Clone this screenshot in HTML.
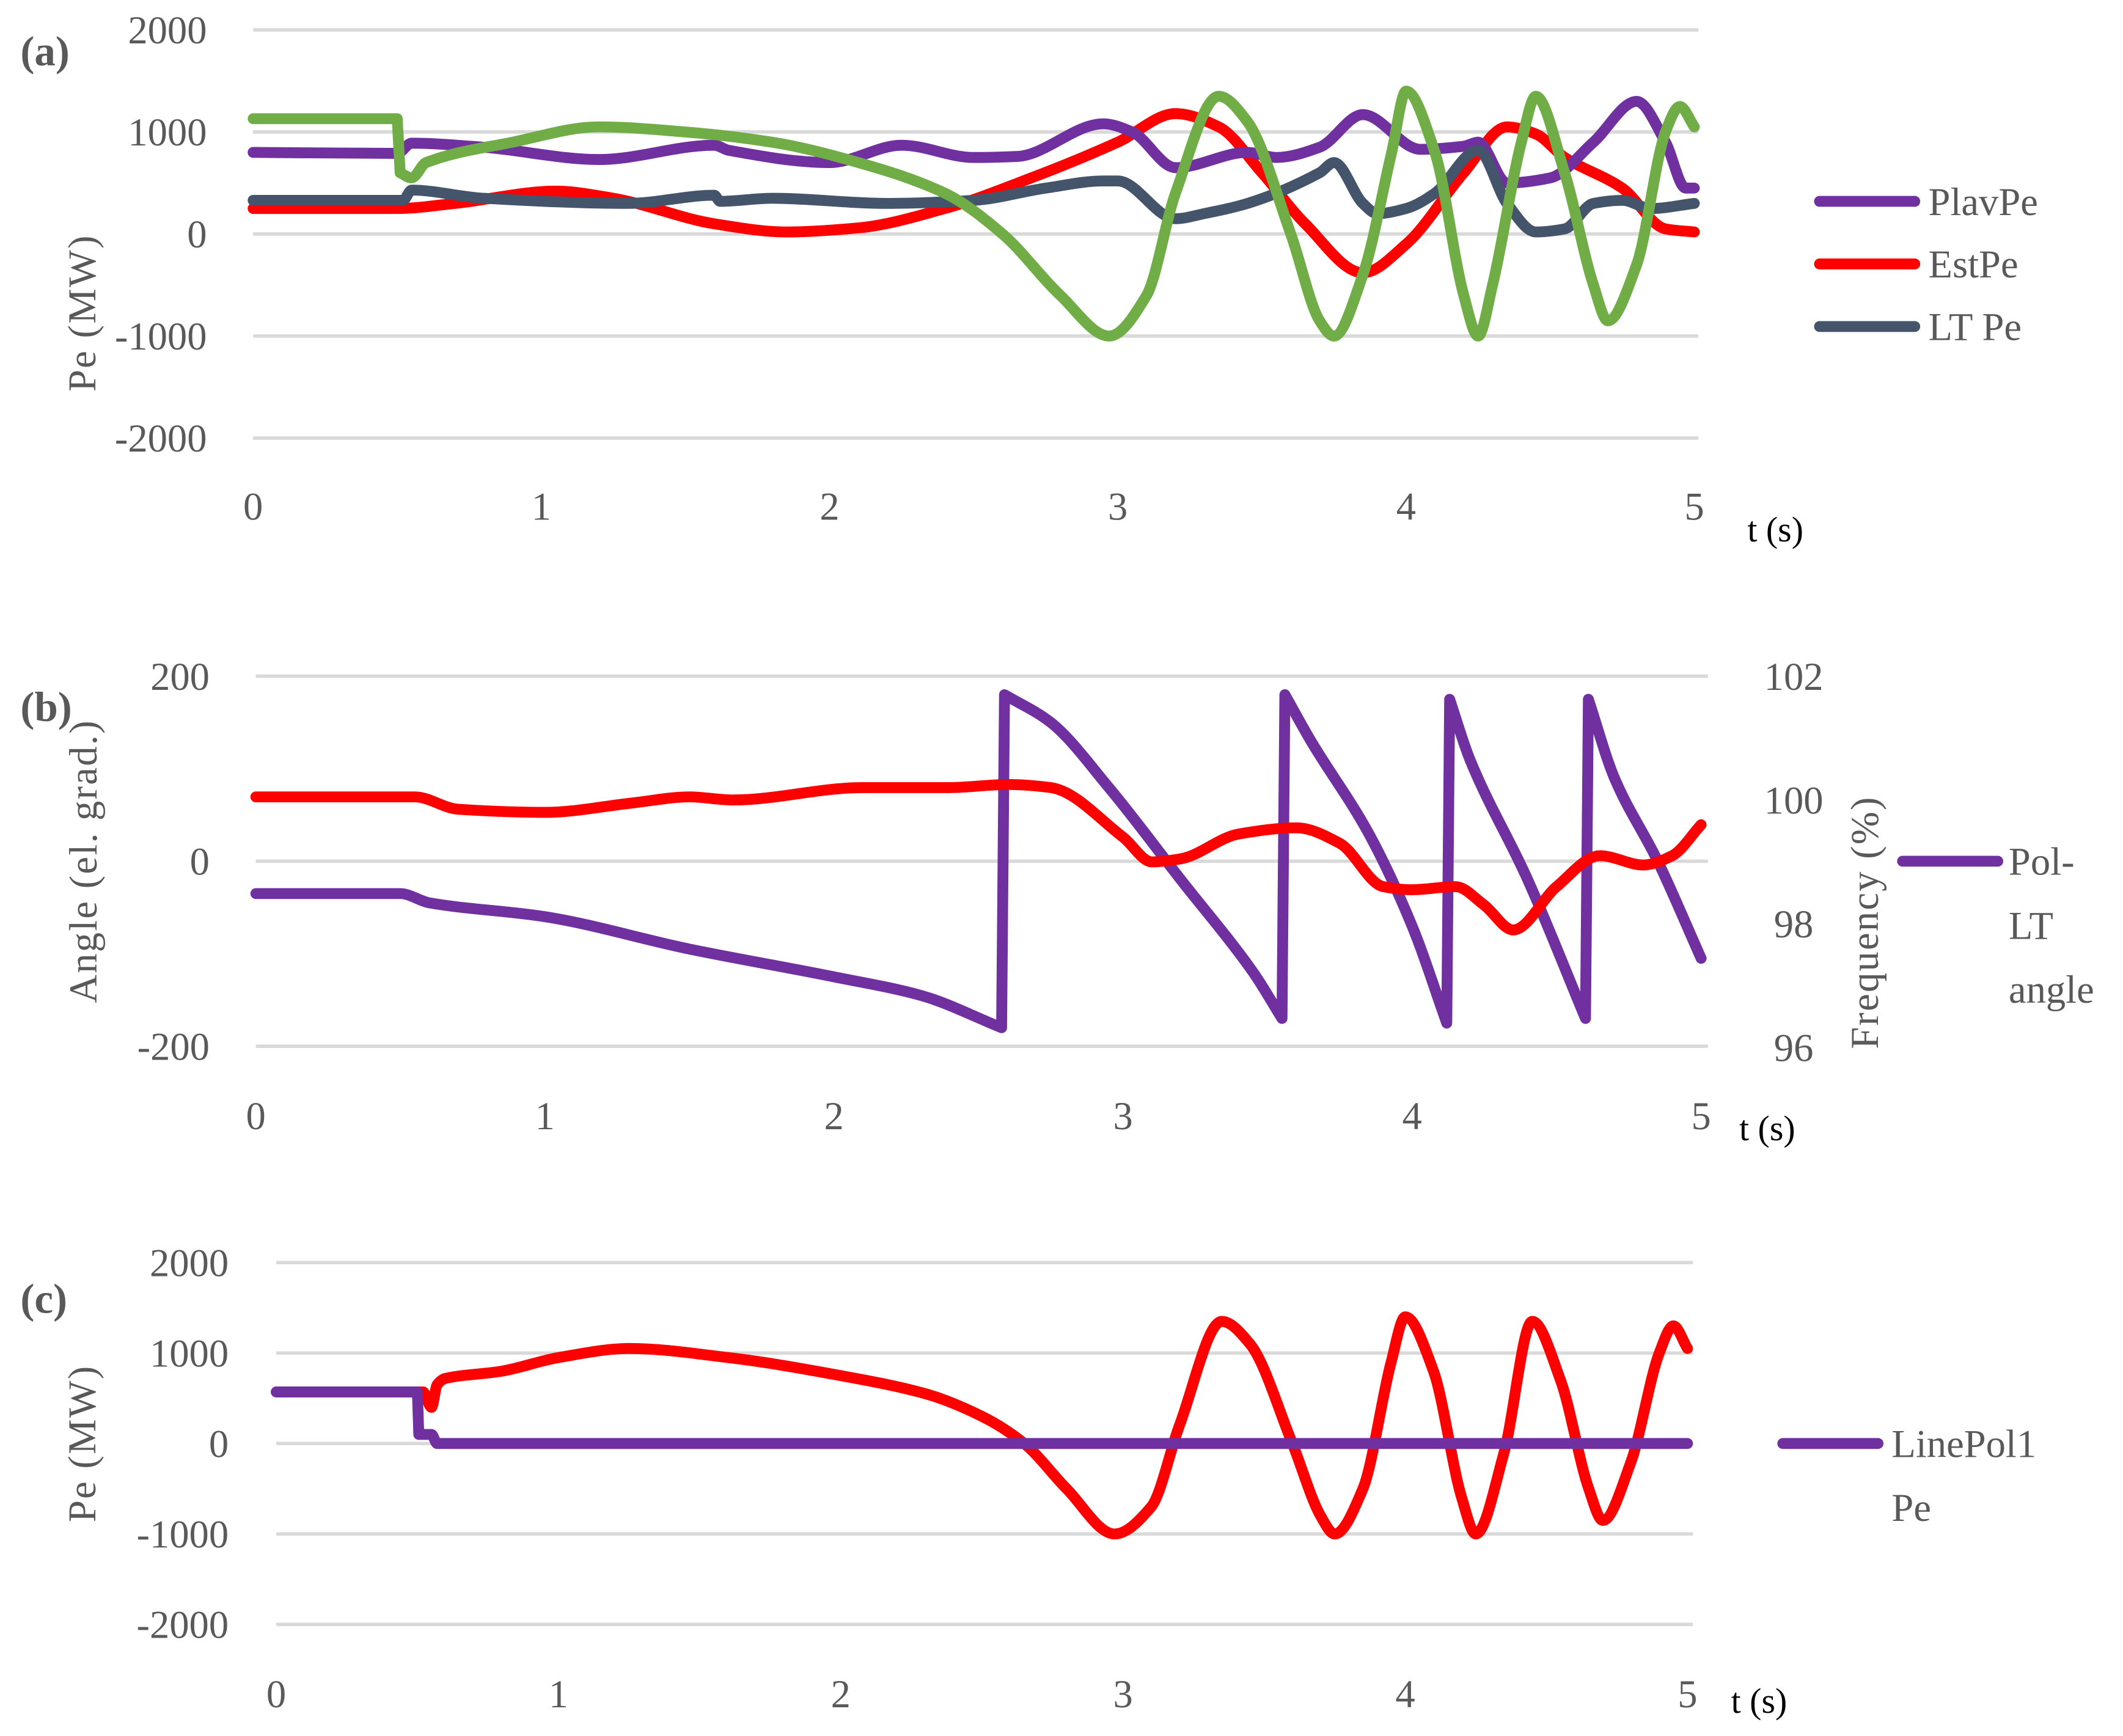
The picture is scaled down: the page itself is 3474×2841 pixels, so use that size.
<!DOCTYPE html>
<html><head><meta charset="utf-8"><style>
html,body{margin:0;padding:0;background:#fff}
svg{display:block}
text{font-family:"Liberation Serif",serif;fill:#595959}
</style></head><body>
<svg id="c" width="3474" height="2841" viewBox="0 0 1560 1276" preserveAspectRatio="none">
<g id="root"></g>
</svg>
<script>
// Panel (a)
const aTime=[0,0.5,0.55,0.8,1.2,1.6,1.65,2.0,2.25,2.5,2.65,2.95,3.05,3.2,3.45,3.55,3.7,3.85,4.05,4.2,4.25,4.35,4.5,4.65,4.8,4.9,4.97,5];
const plavPe=[800,790,890,850,730,870,820,700,870,750,760,1080,1000,650,800,750,850,1170,830,860,900,500,550,900,1300,900,450,450];
const estTime=[0,0.5,0.7,1.05,1.25,1.6,1.85,2.1,2.4,2.7,3.0,3.2,3.35,3.5,3.65,3.85,4.0,4.2,4.35,4.45,4.55,4.75,4.9,5];
const estPe=[250,250,300,420,350,100,20,60,250,550,900,1180,1050,600,100,-380,-100,600,1050,980,750,450,50,20];
const ltTime=[0,0.52,0.55,0.8,1.3,1.6,1.62,1.8,2.2,2.5,2.75,2.95,3.0,3.2,3.3,3.45,3.7,3.75,3.85,3.9,4.0,4.1,4.25,4.35,4.45,4.55,4.65,4.75,4.85,5];
const ltPe=[330,330,430,350,300,380,320,350,300,330,450,520,520,150,200,300,600,700,300,200,250,400,820,300,20,50,300,330,250,300];
const greenTime=[0,0.5,0.51,0.55,0.6,0.9,1.2,1.5,1.8,2.1,2.4,2.6,2.8,2.97,3.1,3.2,3.35,3.45,3.6,3.7,3.75,3.85,3.95,4.0,4.1,4.2,4.25,4.3,4.4,4.45,4.55,4.65,4.7,4.8,4.9,4.95,5];
const greenPe=[1130,1130,600,550,700,900,1050,1000,900,700,400,0,-600,-1000,-600,400,1350,1100,0,-850,-1000,-400,800,1400,800,-600,-1000,-500,900,1350,600,-500,-850,-300,1000,1250,1050];
const aTicks=[2000,1000,0,-1000,-2000];
const xTicks=[0,1,2,3,4,5];
// Panel (b)
const angTime=[0,0.5,0.6,1.0,1.5,2.0,2.3,2.58,2.59,2.75,2.95,3.2,3.45,3.55,3.56,3.65,3.85,4.0,4.12,4.13,4.2,4.4,4.6,4.61,4.7,4.85,5];
const angle=[-35,-35,-45,-60,-95,-125,-145,-180,180,150,80,-20,-120,-170,180,130,30,-70,-175,175,110,-20,-170,175,90,0,-105];
const freqTime=[0,0.55,0.7,1.0,1.3,1.5,1.65,2.1,2.4,2.6,2.75,3.0,3.1,3.2,3.4,3.6,3.75,3.9,4.0,4.15,4.25,4.35,4.5,4.65,4.8,4.9,5];
const freq=[100.05,100.05,99.85,99.8,99.95,100.05,100.0,100.2,100.2,100.25,100.2,99.4,99.0,99.05,99.45,99.55,99.3,98.6,98.55,98.6,98.3,97.9,98.6,99.1,98.95,99.1,99.6];
const bTicks=[200,0,-200];
const fTicks=[102,100,98,96];
// Panel (c)
const lpTime=[0,0.5,0.505,0.55,0.57,5];
const linePol=[570,570,100,100,0,0];
const cRedTime=[0,0.52,0.55,0.57,0.6,0.8,1.0,1.25,1.6,2.0,2.3,2.5,2.65,2.8,2.97,3.1,3.2,3.35,3.45,3.6,3.7,3.75,3.85,3.95,4.0,4.1,4.2,4.25,4.35,4.45,4.55,4.65,4.7,4.8,4.9,4.95,5];
const cRed=[570,570,400,650,720,800,950,1050,950,750,550,300,0,-500,-1000,-700,200,1350,1100,0,-800,-1000,-500,900,1400,800,-600,-1000,-100,1350,700,-500,-850,-200,1000,1300,1050];
const cTicks=[2000,1000,0,-1000,-2000];

const NS="http://www.w3.org/2000/svg";
const root=document.getElementById('root');
function mk(tag,attrs,parent){const e=document.createElementNS(NS,tag);for(const k in attrs)e.setAttribute(k,attrs[k]);(parent||root).appendChild(e);return e;}
function txt(s,attrs,parent){const e=mk('text',attrs,parent);e.textContent=s;return e;}
function lin(d0,d1,r0,r1){return v=>r0+(v-d0)/(d1-d0)*(r1-r0);}
function line(xs,ys,X,Y,color,name,w){
  const P=xs.map((x,i)=>[X(x),Y(ys[i])]);
  const n=P.length,JUMP=3;
  const sec=[],jump=[];
  for(let i=0;i<n-1;i++){const dx=P[i+1][0]-P[i][0];jump[i]=dx<JUMP;sec[i]=jump[i]?0:(P[i+1][1]-P[i][1])/dx;}
  const m=[];
  for(let i=0;i<n;i++){
    const L=i>0&&!jump[i-1]?sec[i-1]:null,R=i<n-1&&!jump[i]?sec[i]:null;
    if(L===null&&R===null)m[i]=0;
    else if(L===null)m[i]=R;
    else if(R===null)m[i]=L;
    else if(L*R<=0)m[i]=0;
    else m[i]=2/(1/L+1/R);
  }
  let d='M'+P[0][0].toFixed(2)+' '+P[0][1].toFixed(2);
  for(let i=0;i<n-1;i++){
    const p1=P[i],p2=P[i+1];
    if(jump[i]){d+='L'+p2[0].toFixed(2)+' '+p2[1].toFixed(2);continue;}
    const h=(p2[0]-p1[0])/3;
    d+='C'+(p1[0]+h).toFixed(2)+' '+(p1[1]+m[i]*h).toFixed(2)+' '+(p2[0]-h).toFixed(2)+' '+(p2[1]-m[i+1]*h).toFixed(2)+' '+p2[0].toFixed(2)+' '+p2[1].toFixed(2);
  }
  const p=mk('path',{d:d,fill:'none',stroke:color,'stroke-width':w||8,'stroke-linejoin':'round','stroke-linecap':'round'});
  
  
}
function grid(ticks,Y,x0,x1,lx,name){
  ticks.forEach(t=>{
    const g=mk('line',{x1:x0,x2:x1,y1:Y(t),y2:Y(t),stroke:'#d9d9d9','stroke-width':2.5});
    
    
    const l=txt(String(t),{x:lx,y:Y(t)+10,'font-size':29,'text-anchor':'end'});
    
    
  });
}
function xaxis(X,y,name){
  xTicks.forEach(t=>{const l=txt(String(t),{x:X(t),y:y,'font-size':29,'text-anchor':'middle'});
    
    });
}
function rotText(s,x,y,name,size){
  const e=txt(s,{x:x,y:y,'font-size':size||29,'text-anchor':'middle',transform:'rotate(-90 '+x+' '+y+')','letter-spacing':1});
  
  
}
function legend(x,y,color,lines,name,tx){
  const l=mk('line',{x1:x,x2:x+70,y1:y,y2:y,stroke:color,'stroke-width':8,'stroke-linecap':'round'});
  
  
  lines.forEach((s,i)=>{const t=txt(s,{x:tx,y:y+10+i*47,'font-size':29});
    
    });
}
function label(s,x,y,name,sans){
  const t=txt(s,{x:x,y:y,'font-size':sans?26:31,'font-weight':sans?'normal':'bold',fill:sans?'#000':'#595959','font-family':sans?'Liberation Sans, sans-serif':'Liberation Serif, serif'});
  
  
  if(sans)t.style.fill='#000';
}
const PURPLE='#7030a0',RED='#ff0000',DARK='#44546a',GREEN='#70ad47';
// (a)
{const X=lin(0,5,186,1245),Y=lin(0,1000,172,97);
grid(aTicks,Y,186,1248,152,'panel-a-y');xaxis(X,382,'panel-a');
line(estTime,estPe,X,Y,RED,'estpe-line');
line(aTime,plavPe,X,Y,PURPLE,'plavpe-line');
line(ltTime,ltPe,X,Y,DARK,'ltpe-line');
line(greenTime,greenPe,X,Y,GREEN,'green-series-line');
rotText('Pe (MW)',70,230,'panel-a-y-axis-title');
legend(1337,148,PURPLE,['PlavPe'],'legend-plavpe',1417);
legend(1337,194,RED,['EstPe'],'legend-estpe',1417);
legend(1337,240,DARK,['LT Pe'],'legend-ltpe',1417);
label('(a)',15,48,'panel-a-label');label('t (s)',1284,398,'panel-a-x-axis-title',true);}
// (b)
{const X=lin(0,5,188,1250),Y=lin(0,200,633,497),YF=lin(96,102,770,497);
grid(bTicks,Y,188,1255,154,'panel-b-y');xaxis(X,830,'panel-b');
fTicks.forEach(t=>{const l=txt(String(t),{x:1318,y:YF(t)+10,'font-size':29,'text-anchor':'middle'});
  
  });
line(angTime,angle,X,Y,PURPLE,'pol-lt-angle-line');
line(freqTime,freq,X,YF,RED,'frequency-line');
rotText('Angle (el. grad.)',71,633,'panel-b-y-axis-title');
rotText('Frequency (%)',1380,678,'panel-b-right-axis-title');
legend(1398,633,PURPLE,['Pol-','LT','angle'],'legend-pol-lt-angle',1476);
label('(b)',15,530,'panel-b-label');label('t (s)',1278,838,'panel-b-x-axis-title',true);}
// (c)
{const X=lin(0,5,203,1240),Y=lin(0,1000,1061,994.5);
grid(cTicks,Y,203,1244,168,'panel-c-y');xaxis(X,1255,'panel-c');
line(cRedTime,cRed,X,Y,RED,'panel-c-red-line');
line(lpTime,linePol,X,Y,PURPLE,'linepol1-pe-line');
rotText('Pe (MW)',70,1061,'panel-c-y-axis-title');
legend(1310,1061,PURPLE,['LinePol1','Pe'],'legend-linepol1-pe',1390);
label('(c)',15,965,'panel-c-label');label('t (s)',1272,1259,'panel-c-x-axis-title',true);}
</script>
</body></html>
